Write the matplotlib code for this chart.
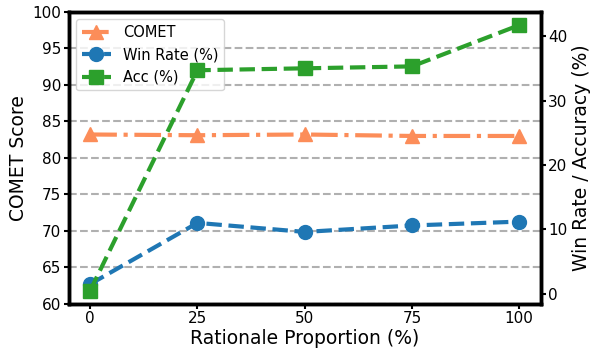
import matplotlib
matplotlib.use("Agg")
import matplotlib.pyplot as plt

# Data
proportion = [0, 25, 50, 75, 100]
comet = [83.2, 83.1, 83.2, 83.0, 83.0]
win_rate = [1.5, 11.0, 9.6, 10.6, 11.2]
acc = [0.5, 34.7, 35.0, 35.3, 41.7]

fig, ax = plt.subplots(figsize=(5.98, 3.5), dpi=100)
ax2 = ax.twinx()

l1, = ax.plot(proportion, comet, color="#fc8d59", linestyle="-.", linewidth=3,
              marker="^", markersize=10, label="COMET")
l2, = ax2.plot(proportion, win_rate, color="#1f77b4", linestyle="--", linewidth=3,
               marker="o", markersize=10, label="Win Rate (%)")
l3, = ax2.plot(proportion, acc, color="#2ca02c", linestyle="--", linewidth=3,
               marker="s", markersize=10, label="Acc (%)")

ax.set_ylim(60, 100)
ax.set_xticks(proportion)
ax.yaxis.grid(True, linestyle="--", color="#b0b0b0", linewidth=1.5)
ax.set_axisbelow(True)
ax2.set_yticks([0, 10, 20, 30, 40])

ax.set_xlabel("Rationale Proportion (%)", fontsize=13.5, labelpad=2)
ax.set_ylabel("COMET Score", fontsize=13.5, labelpad=3)
ax2.set_ylabel("Win Rate / Accuracy (%)", fontsize=13.5, labelpad=3)
ax.tick_params(labelsize=11, width=1.5, pad=2)
ax2.tick_params(labelsize=11, width=1.5, pad=2)

for a in (ax, ax2):
    for s in a.spines.values():
        s.set_linewidth(2.5)

ax.legend(handles=[l1, l2, l3], loc="upper left", fontsize=10.5)

fig.subplots_adjust(left=0.115, right=0.904, top=0.966, bottom=0.132)
fig.savefig("out.png", dpi=100)
